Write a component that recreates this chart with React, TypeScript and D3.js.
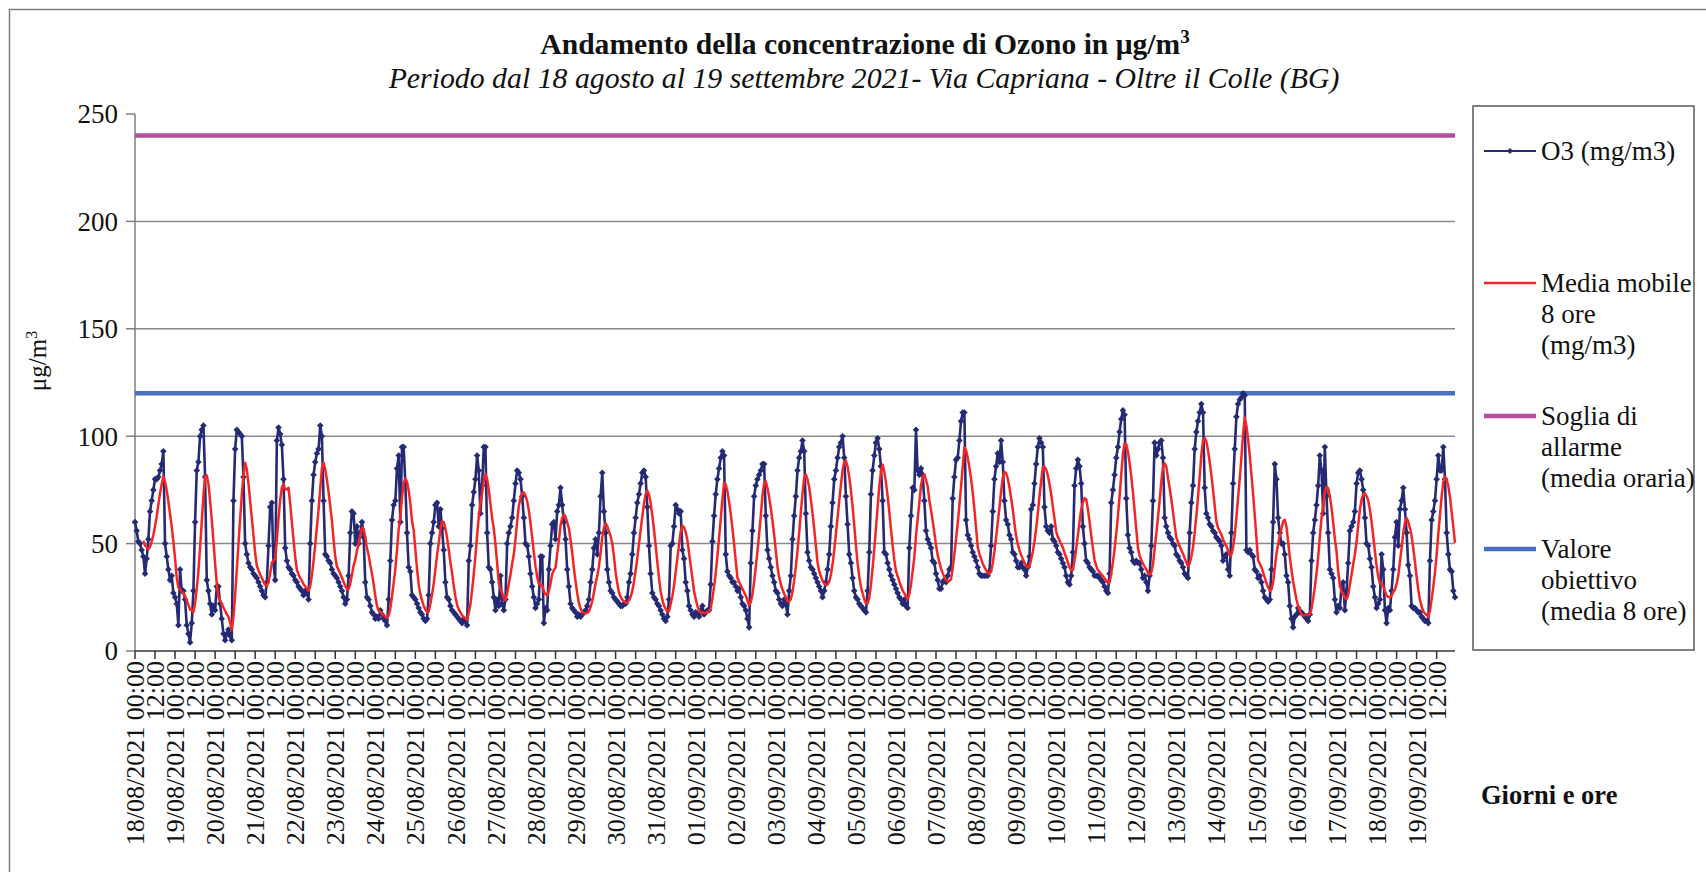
import React from 'react';
import * as d3 from 'd3';

// ---- DATA ----
const dayLabels: string[] = [
  '18/08/2021', '19/08/2021', '20/08/2021', '21/08/2021', '22/08/2021', '23/08/2021', '24/08/2021',
  '25/08/2021', '26/08/2021', '27/08/2021', '28/08/2021', '29/08/2021', '30/08/2021', '31/08/2021',
  '01/09/2021', '02/09/2021', '03/09/2021', '04/09/2021', '05/09/2021', '06/09/2021', '07/09/2021',
  '08/09/2021', '09/09/2021', '10/09/2021', '11/09/2021', '12/09/2021', '13/09/2021', '14/09/2021',
  '15/09/2021', '16/09/2021', '17/09/2021', '18/09/2021', '19/09/2021',
];

// hourly O3 values (µg/m3), one row per day, 00:00 .. 23:00
const o3Values: number[] = [
  60, 56, 51, 50, 47, 44, 36, 43, 52, 65, 70, 75, 80, 80, 81, 84, 87, 93, 50, 44, 38, 33, 35, 27,
  25, 22, 12, 38, 28, 28, 24, 12, 8, 4, 13, 28, 60, 84, 88, 100, 103, 105, 81, 33, 28, 22, 17, 21,
  19, 30, 30, 22, 15, 8, 5, 8, 10, 7, 5, 70, 94, 103, 102, 101, 100, 81, 50, 45, 41, 39, 38, 36,
  35, 34, 32, 30, 28, 26, 25, 32, 49, 67, 69, 41, 33, 98, 104, 101, 96, 80, 48, 42, 39, 38, 36, 35,
  33, 32, 30, 29, 28, 26, 28, 27, 24, 50, 70, 82, 88, 92, 94, 105, 100, 70, 45, 44, 42, 41, 38, 36,
  35, 34, 32, 30, 28, 25, 22, 24, 35, 55, 65, 64, 50, 58, 50, 55, 60, 53, 32, 25, 24, 21, 18, 17,
  15, 16, 15, 19, 17, 15, 14, 12, 24, 42, 61, 68, 70, 85, 91, 60, 95, 95, 78, 55, 39, 37, 26, 25,
  24, 22, 20, 18, 17, 15, 14, 15, 26, 50, 55, 60, 68, 69, 58, 66, 57, 47, 32, 25, 24, 21, 19, 18,
  17, 16, 15, 14, 13, 15, 14, 12, 42, 49, 68, 74, 80, 91, 84, 64, 77, 95, 95, 55, 39, 38, 32, 25,
  19, 24, 21, 35, 22, 19, 24, 50, 55, 58, 62, 70, 78, 84, 83, 80, 72, 62, 50, 49, 44, 36, 30, 25,
  20, 22, 24, 44, 44, 13, 20, 19, 38, 49, 59, 60, 52, 65, 68, 76, 68, 60, 52, 38, 30, 22, 20, 19,
  18, 16, 17, 16, 17, 18, 19, 21, 24, 32, 38, 48, 52, 45, 55, 72, 83, 65, 55, 38, 32, 28, 27, 25,
  24, 23, 22, 21, 21, 22, 22, 25, 32, 36, 45, 55, 62, 69, 73, 78, 83, 84, 81, 67, 49, 36, 27, 25,
  24, 22, 21, 19, 17, 15, 14, 16, 24, 49, 50, 58, 68, 66, 64, 65, 47, 43, 32, 28, 21, 19, 17, 16,
  18, 17, 16, 19, 21, 17, 18, 19, 19, 31, 51, 63, 73, 80, 85, 90, 93, 91, 45, 37, 35, 34, 32, 32,
  30, 28, 29, 25, 22, 21, 19, 15, 11, 41, 56, 72, 77, 80, 82, 84, 87, 87, 63, 47, 43, 39, 35, 32,
  28, 27, 24, 22, 21, 24, 22, 17, 28, 35, 52, 63, 72, 84, 90, 93, 98, 93, 64, 46, 42, 39, 38, 36,
  34, 32, 30, 28, 25, 28, 32, 38, 45, 58, 69, 80, 84, 90, 95, 97, 100, 90, 72, 59, 45, 41, 34, 28,
  25, 24, 22, 21, 20, 19, 18, 28, 46, 73, 84, 91, 97, 99, 94, 86, 70, 46, 45, 41, 38, 35, 33, 31,
  29, 27, 25, 24, 22, 24, 21, 20, 48, 63, 76, 75, 103, 84, 82, 85, 82, 70, 56, 52, 50, 48, 42, 41,
  36, 33, 29, 29, 32, 33, 32, 35, 38, 39, 71, 81, 89, 90, 98, 107, 111, 111, 61, 54, 52, 49, 46, 44,
  42, 39, 36, 35, 35, 35, 35, 35, 37, 49, 65, 80, 86, 92, 88, 98, 88, 70, 61, 59, 54, 52, 46, 45,
  42, 39, 39, 41, 39, 38, 35, 39, 44, 66, 68, 78, 87, 95, 99, 97, 95, 67, 58, 56, 55, 58, 52, 51,
  49, 46, 45, 43, 41, 39, 35, 32, 31, 35, 46, 77, 85, 89, 86, 78, 58, 50, 42, 41, 39, 38, 37, 35,
  35, 35, 34, 33, 32, 30, 28, 27, 36, 69, 75, 82, 90, 95, 102, 108, 112, 110, 71, 54, 48, 46, 42, 41,
  42, 41, 41, 38, 34, 35, 32, 28, 35, 49, 70, 97, 91, 94, 97, 98, 90, 62, 58, 55, 53, 52, 50, 49,
  45, 44, 42, 41, 39, 36, 35, 34, 55, 69, 77, 94, 102, 107, 111, 115, 111, 76, 64, 62, 59, 58, 56, 55,
  53, 52, 51, 49, 42, 44, 45, 38, 35, 55, 78, 94, 109, 115, 117, 118, 120, 119, 47, 46, 47, 45, 44, 38,
  37, 34, 35, 32, 28, 25, 24, 23, 24, 38, 60, 87, 80, 62, 55, 50, 50, 45, 35, 32, 21, 15, 11, 16,
  17, 20, 18, 18, 17, 16, 15, 14, 17, 42, 55, 61, 68, 77, 91, 84, 64, 95, 72, 55, 38, 36, 34, 24,
  18, 21, 20, 30, 32, 19, 28, 41, 56, 58, 60, 65, 78, 83, 84, 80, 75, 62, 50, 49, 43, 39, 30, 25,
  20, 22, 24, 45, 38, 19, 13, 20, 19, 28, 38, 53, 60, 49, 66, 70, 76, 66, 55, 40, 35, 21, 20, 20,
  19, 18, 18, 16, 15, 14, 14, 13, 42, 61, 65, 70, 80, 91, 84, 84, 95, 80, 55, 45, 38, 37, 28, 25,
];

const alarmThreshold = 240; // Soglia di allarme (media oraria)
const targetValue = 120; // Valore obiettivo (media 8 ore)
const yTickValues: number[] = [0, 50, 100, 150, 200, 250];
const gridValues: number[] = [50, 100, 150, 200];

const legendItems = [
  { key: 'o3', lines: ['O3 (mg/m3)'] },
  { key: 'ma', lines: ['Media mobile', '8 ore', '(mg/m3)'] },
  { key: 'alarm', lines: ['Soglia di', 'allarme', '(media oraria)'] },
  { key: 'target', lines: ['Valore', 'obiettivo', '(media 8 ore)'] },
];

// ---- STYLE ----
const FONT = '"Liberation Serif", "Times New Roman", serif';
const C_O3 = '#252A74';
const C_MA = '#F52525';
const C_ALARM = '#B54E9E';
const C_TARGET = '#4A6EC1';

export default function App() {
  const n = o3Values.length;
  const plot = { left: 135, right: 1455, top: 114, bottom: 651 };
  const x = d3.scaleLinear().domain([0, n - 1]).range([plot.left, plot.right]);
  const y = d3.scaleLinear().domain([0, 250]).range([plot.bottom, plot.top]);

  // 8-hour trailing moving average (valid with at least 6 of 8 hours)
  const movingAvg: (number | null)[] = o3Values.map((_, i) => {
    const w = o3Values.slice(Math.max(0, i - 7), i + 1);
    return w.length >= 6 ? d3.mean(w)! : null;
  });

  const lineO3 = d3.line<number>().x((_, i) => x(i)).y((d) => y(d));
  const lineMA = d3
    .line<number | null>()
    .defined((d) => d != null)
    .x((_, i) => x(i))
    .y((d) => y(d as number));

  const tickIdx = d3.range(0, n, 12);
  const diamond = (cx: number, cy: number, r: number) =>
    `M${cx},${cy - r}L${cx + r},${cy}L${cx},${cy + r}L${cx - r},${cy}Z`;

  const legendX = 1473;
  const legendTop = 106;
  const legendBottom = 650;
  const legendBaselines = [160, 292, 425, 558];
  const lineGap = 31;

  return (
    <svg
      width={1706}
      height={872}
      style={{ position: 'absolute', left: 0, top: 0, background: '#fff' }}
      fontFamily={FONT}
    >
      <rect x={0} y={0} width={1706} height={872} fill="#fff" />
      <rect x={9.5} y={9.5} width={1800} height={1000} fill="none" stroke="#7f7f7f" strokeWidth={1.5} />

      {/* Title */}
      <text x={865} y={54} textAnchor="middle" fontWeight="bold" fontSize={29.6} fill="#111">
        Andamento della concentrazione di Ozono in μg/m
        <tspan dy={-11} fontSize={19}>3</tspan>
      </text>
      <text x={864} y={88} textAnchor="middle" fontStyle="italic" fontSize={29.8} fill="#111">
        Periodo dal 18 agosto al 19 settembre 2021- Via Capriana - Oltre il Colle (BG)
      </text>

      {/* Grid */}
      {gridValues.map((v) => (
        <line key={v} x1={plot.left} x2={plot.right} y1={y(v)} y2={y(v)} stroke="#8a8a8a" strokeWidth={1.5} />
      ))}

      {/* Y axis */}
      <line x1={plot.left} x2={plot.left} y1={plot.top} y2={plot.bottom} stroke="#7f7f7f" strokeWidth={1.5} />
      {yTickValues.map((v) => (
        <g key={v}>
          <line x1={plot.left - 9} x2={plot.left} y1={y(v)} y2={y(v)} stroke="#7f7f7f" strokeWidth={1.5} />
          <text x={118} y={y(v)} dy="0.35em" textAnchor="end" fontSize={27} fill="#111">
            {v}
          </text>
        </g>
      ))}
      <text transform="translate(46,361) rotate(-90)" textAnchor="middle" fontSize={25} fill="#111">
        μg/m<tspan dy={-9} fontSize={16}>3</tspan>
      </text>

      {/* X axis */}
      <line x1={plot.left} x2={plot.right} y1={plot.bottom} y2={plot.bottom} stroke="#333" strokeWidth={1.5} />
      {tickIdx.map((i, k) => (
        <g key={i}>
          <line x1={x(i)} x2={x(i)} y1={plot.bottom} y2={plot.bottom + 8} stroke="#333" strokeWidth={1.5} />
          <text
            transform={`translate(${x(i)},${plot.bottom + 10}) rotate(-90)`}
            dy="0.35em"
            textAnchor="end"
            fontSize={26}
            fill="#111"
          >
            {k % 2 === 0 ? `${dayLabels[k / 2]} 00:00` : '12:00'}
          </text>
        </g>
      ))}
      <text x={1481} y={804} fontWeight="bold" fontSize={26.5} fill="#111">
        Giorni e ore
      </text>

      {/* Threshold lines */}
      <line x1={x(0)} x2={x(n - 1)} y1={y(alarmThreshold)} y2={y(alarmThreshold)} stroke={C_ALARM} strokeWidth={4.5} />
      <line x1={x(0)} x2={x(n - 1)} y1={y(targetValue)} y2={y(targetValue)} stroke={C_TARGET} strokeWidth={4.5} />

      {/* O3 series */}
      <path d={lineO3(o3Values) || ''} fill="none" stroke={C_O3} strokeWidth={2.6} strokeLinejoin="round" />
      <g fill={C_O3}>
        {o3Values.map((v, i) => (
          <path key={i} d={diamond(x(i), y(v), 3.3)} />
        ))}
      </g>

      {/* Moving average */}
      <path d={lineMA(movingAvg) || ''} fill="none" stroke={C_MA} strokeWidth={2.5} strokeLinejoin="round" />

      {/* Legend */}
      <rect
        x={legendX}
        y={legendTop}
        width={1694 - legendX}
        height={legendBottom - legendTop}
        fill="#fff"
        stroke="#595959"
        strokeWidth={1.5}
      />
      {legendItems.map((item, j) => {
        const base = legendBaselines[j];
        const ly = base - 9;
        const color =
          item.key === 'o3' ? C_O3 : item.key === 'ma' ? C_MA : item.key === 'alarm' ? C_ALARM : C_TARGET;
        const sw = item.key === 'o3' ? 1.8 : item.key === 'ma' ? 2.5 : 4.5;
        return (
          <g key={item.key}>
            <line x1={1484} x2={1536} y1={ly} y2={ly} stroke={color} strokeWidth={sw} />
            {item.key === 'o3' && <path d={diamond(1510, ly, 3)} fill={C_O3} />}
            {item.lines.map((t, r) => (
              <text key={r} x={1541} y={base + r * lineGap} fontSize={27} fill="#111">
                {t}
              </text>
            ))}
          </g>
        );
      })}
    </svg>
  );
}
